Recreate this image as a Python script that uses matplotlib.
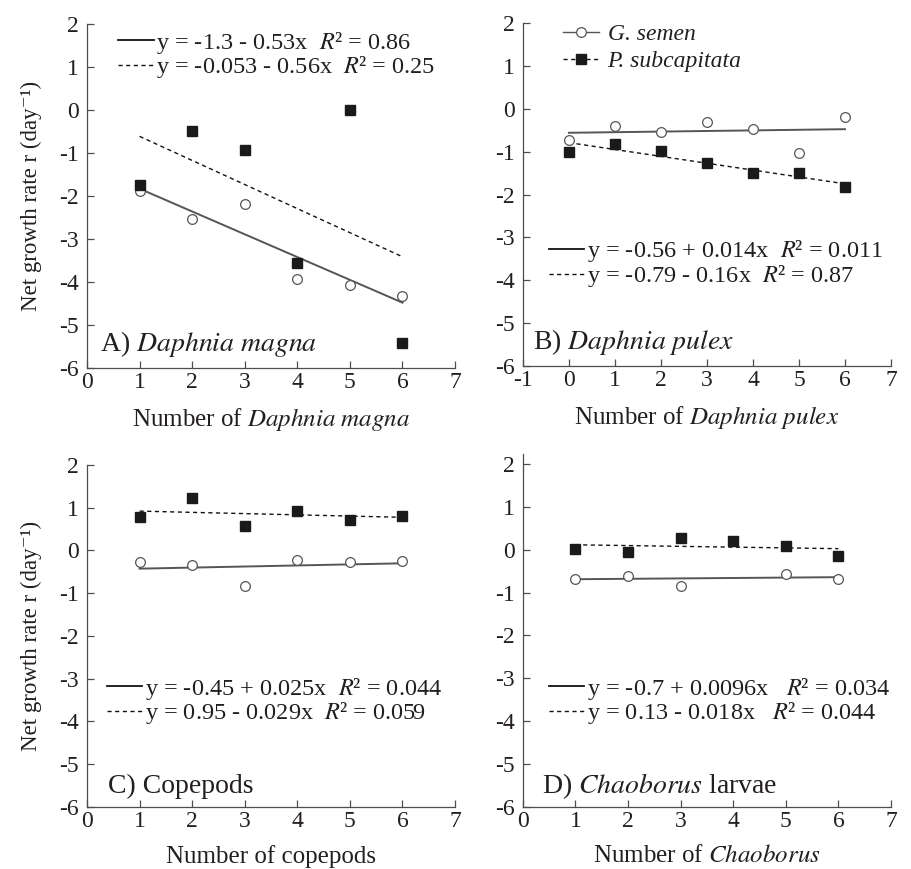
import numpy as np
import matplotlib
matplotlib.use("Agg")
import matplotlib.pyplot as plt
from matplotlib.lines import Line2D

plt.rcParams['font.family'] = ['Liberation Serif', 'DejaVu Serif']
plt.rcParams['mathtext.fontset'] = 'stix'
plt.rcParams['axes.unicode_minus'] = False

TXT = '#231f20'
GREY = '#555555'

# A) Daphnia magna
n_magna = [1, 2, 3, 4, 5, 6]
semen_magna = [-1.88, -2.54, -2.19, -3.92, -4.08, -4.33]
subcap_magna = [-1.74, -0.48, -0.92, -3.55, 0.00, -5.41]

# B) Daphnia pulex
n_pulex = [0, 1, 2, 3, 4, 5, 6]
semen_pulex = [-0.73, -0.41, -0.55, -0.30, -0.48, -1.04, -0.19]
subcap_pulex = [-1.00, -0.81, -0.98, -1.26, -1.50, -1.50, -1.83]

# C) Copepods
n_cope = [1, 2, 3, 4, 5, 6]
semen_cope = [-0.28, -0.34, -0.82, -0.22, -0.28, -0.25]
subcap_cope = [0.78, 1.23, 0.57, 0.93, 0.71, 0.81]

# D) Chaoborus larvae (no G. semen point visible at 4)
n_chao = [1, 2, 3, 4, 5, 6]
semen_chao = [-0.68, -0.62, -0.86, np.nan, -0.57, -0.68]
subcap_chao = [0.02, -0.05, 0.28, 0.21, 0.08, -0.16]

# linear fits: (intercept, slope, R2)
fit_semen = [(-1.3, -0.53, '0.86'), (-0.56, 0.014, '0.011'),
             (-0.45, 0.025, '0.044'), (-0.7, 0.0096, '0.034')]
fit_subcap = [(-0.053, -0.56, '0.25'), (-0.79, -0.16, '0.87'),
              (0.95, -0.029, '0.059'), (0.13, -0.018, '0.044')]

panel_titles = [r'A) $\it{Daphnia\ magna}$', r'B) $\it{Daphnia\ pulex}$',
                'C) Copepods', r'D) $\it{Chaoborus}$ larvae']
xlabels = [r'Number of $\it{Daphnia\ magna}$', r'Number of $\it{Daphnia\ pulex}$',
           'Number of copepods', r'Number of $\it{Chaoborus}$']
xlims = [(0, 7), (-1, 7), (0, 7), (0, 7)]
ytops = [2, 2, 2, 2.23]

xs = [n_magna, n_pulex, n_cope, n_chao]
semen = [semen_magna, semen_pulex, semen_cope, semen_chao]
subcap = [subcap_magna, subcap_pulex, subcap_cope, subcap_chao]

# layout (figure fractions) and equation-legend anchors (axes fractions)
rects = [[0.0955, 0.5765, 0.404, 0.3959], [0.574, 0.5788, 0.404, 0.3947],
         [0.0955, 0.0714, 0.404, 0.3935], [0.574, 0.0714, 0.404, 0.4062]]
eq_anchor = [(0.085, 0.91), (0.071, 0.298), (0.055, 0.31), (0.071, 0.30)]
title_pos = [(0.035, 0.07), (0.027, 0.07), (0.057, 0.06), (0.052, 0.06)]


def eq_text(a, b, r2, gap='  '):
    sign = '+' if b >= 0 else '-'
    return f'y = {a:g} {sign} {abs(b):g}x{gap}$R$\u00b2 = {r2}'


fig = plt.figure(figsize=(9.11, 8.69), dpi=100)

for i in range(4):
    ax = fig.add_axes(rects[i])
    x = np.array(xs[i], dtype=float)
    xl = np.array([x.min(), x.max()])

    a1, b1, r1 = fit_semen[i]
    a2, b2, r2 = fit_subcap[i]
    ax.plot(xl, a1 + b1 * xl, color=GREY, lw=1.4, zorder=2)
    ax.plot(xl, a2 + b2 * xl, color='#111111', lw=1.0, dashes=(3, 2.5), zorder=2)
    ax.plot(x, semen[i], ls='none', marker='o', ms=7, mfc='white',
            mec=GREY, mew=0.9, zorder=3)
    ax.plot(x, subcap[i], ls='none', marker='s', ms=6.5, mfc='#1a1a1a',
            mec='#1a1a1a', zorder=3)

    ax.set_xlim(*xlims[i])
    ax.set_ylim(-6, ytops[i])
    ax.set_xticks(range(xlims[i][0], xlims[i][1] + 1))
    ax.set_yticks(range(-6, 3))
    for s in ['top', 'right']:
        ax.spines[s].set_visible(False)
    for s in ['left', 'bottom']:
        ax.spines[s].set_color('#4d4d4d')
        ax.spines[s].set_linewidth(0.9)
    ax.tick_params(direction='in', length=5, width=0.9, color='#4d4d4d',
                   labelsize=17, labelcolor=TXT)
    ax.tick_params(axis='y', pad=6)
    ax.tick_params(axis='x', pad=3)

    ax.set_xlabel(xlabels[i], fontsize=18, color=TXT, labelpad=9)
    if i in (0, 2):
        ax.set_ylabel('Net growth rate r (day\u207b\u00b9)',
                      fontsize=16.5, color=TXT, labelpad=12)

    ax.text(*title_pos[i], panel_titles[i], transform=ax.transAxes,
            fontsize=20, color=TXT, va='center', ha='left')

    gap = '   ' if i == 3 else '  '
    handles = [Line2D([], [], color='#111111', lw=1.3),
               Line2D([], [], color='#111111', lw=1.0, dashes=(3, 2.5))]
    labels = [eq_text(a1, b1, r1, gap), eq_text(a2, b2, r2, gap)]
    leg = ax.legend(handles, labels, loc='center left', bbox_to_anchor=eq_anchor[i],
                    frameon=False, fontsize=17.5, handlelength=1.45,
                    handletextpad=0.1, labelspacing=-0.05, borderpad=0,
                    borderaxespad=0)
    for t in leg.get_texts():
        t.set_color(TXT)

    if i == 1:
        ax.add_artist(leg)
        sp = [Line2D([], [], color=GREY, lw=1.0, marker='o', ms=7, mfc='white',
                     mec=GREY, mew=0.9),
              Line2D([], [], color='#111111', lw=1.0, dashes=(3, 2.5), marker='s',
                     ms=6.5, mfc='#1a1a1a', mec='#1a1a1a')]
        leg2 = ax.legend(sp, ['G. semen', 'P. subcapitata'], loc='center left',
                         bbox_to_anchor=(0.108, 0.928), frameon=False,
                         prop=dict(family='Liberation Serif', style='italic', size=17),
                         handlelength=1.55, handletextpad=0.35, labelspacing=0.25,
                         borderpad=0, borderaxespad=0, numpoints=1)
        for t in leg2.get_texts():
            t.set_color(TXT)

fig.savefig('out.png', dpi=100)
